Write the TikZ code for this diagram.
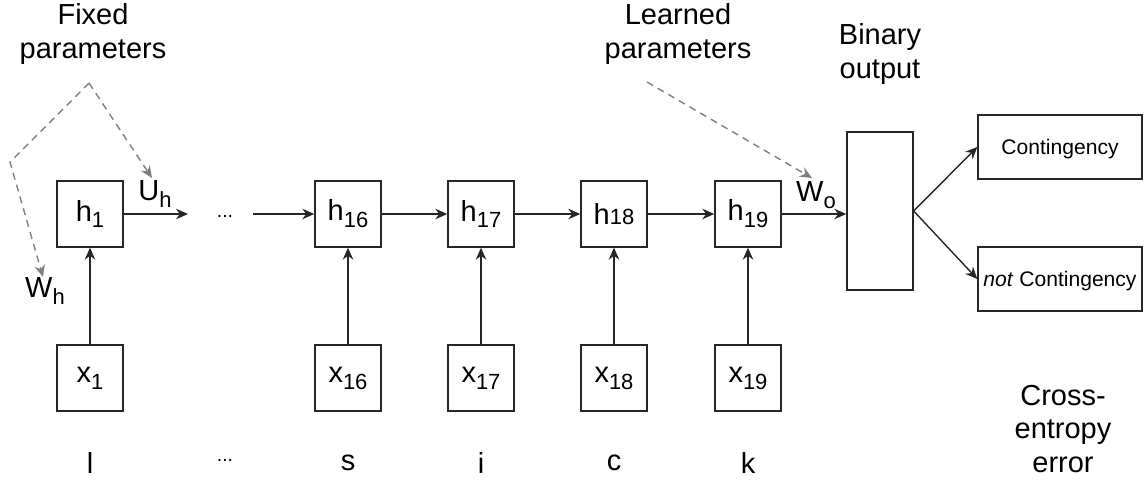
\documentclass[tikz,border=0pt]{standalone}
\usepackage{fontspec}
\setmainfont{Liberation Sans}
\usetikzlibrary{arrows.meta, positioning}

% lowered small digits/letters for the unit names
\newcommand{\lowsub}[1]{\raisebox{-0.45ex}{\fontsize{12.5}{12.5}\selectfont #1}}
\newcommand{\smallidx}[1]{{\fontsize{12.5}{12.5}\selectfont #1}}

\begin{document}
\begin{tikzpicture}[
    x=0.02cm, y=-0.02cm,
    every node/.style={font=\fontsize{16.5}{19}\selectfont},
    cell/.style={rectangle, draw=black!85, thick, minimum width=1.32cm, minimum height=1.32cm, inner sep=0pt},
    outbox/.style={rectangle, draw=black!85, thick, minimum width=1.32cm, minimum height=3.16cm},
    classbox/.style={rectangle, draw=black!85, thick, minimum width=3.28cm, minimum height=1.28cm, inner sep=0pt, text depth=0pt, font=\fontsize{12}{14}\selectfont},
    note/.style={align=center, inner sep=0pt},
    arrow/.style={thick, black!85, -{Stealth[length=2.4mm, width=2.1mm]}},
    hint/.style={thick, gray, dashed, dash pattern=on 4pt off 3pt, -{Stealth[length=2.4mm, width=2.1mm]}}
]
\useasboundingbox (0,0) rectangle (1147,481);

% hidden units
\node[cell] (h1)  at (90,214)  {h\lowsub{1}};
\node[cell] (h16) at (348,214) {h\lowsub{16}};
\node[cell] (h17) at (481,214) {h\lowsub{17}};
\node[cell] (h18) at (614,214) {h\smallidx{18}};
\node[cell] (h19) at (748,214) {h\lowsub{19}};

% inputs
\node[cell] (x1)  at (90,378)  {x\lowsub{1}};
\node[cell] (x16) at (348,378) {x\lowsub{16}};
\node[cell] (x17) at (481,378) {x\lowsub{17}};
\node[cell] (x18) at (614,378) {x\lowsub{18}};
\node[cell] (x19) at (748,378) {x\lowsub{19}};

% characters
\node (cl)  at (90,463)  {l};
\node[font=\fontsize{11}{11}\selectfont] (cdots) at (225,460) {...};
\node (cs)  at (348,463) {s};
\node (ci)  at (481,463) {i};
\node (cc)  at (614,463) {c};
\node (ck)  at (748,463) {k};

% output side
\node[outbox] (binary) at (880,211) {};
\node[classbox] (cont)  at (1060,147) {Contingency};
\node[classbox] (ncont) at (1060,279) {\textit{not} Contingency};

% recurrence
\coordinate (uhend) at (188,214);
\coordinate (dotsout) at (253,214);
\node[font=\fontsize{11}{11}\selectfont] (hdots) at (225,216) {...};
\draw[arrow] (h1) -- (uhend);
\draw[arrow] (dotsout) -- (h16);
\draw[arrow] (h16) -- (h17);
\draw[arrow] (h17) -- (h18);
\draw[arrow] (h18) -- (h19);
\draw[arrow] (h19) -- (h19 -| binary.west);

\draw[arrow] (x1) -- (h1);
\draw[arrow] (x16) -- (h16);
\draw[arrow] (x17) -- (h17);
\draw[arrow] (x18) -- (h18);
\draw[arrow] (x19) -- (h19);

\draw[arrow] (binary.east) -- (cont.west);
\draw[arrow] (binary.east) -- (ncont.west);

% weight labels
\node (uh) at (155,194) {U\lowsub{h}};
\node (wh) at (45,291)  {W\lowsub{h}};
\node (wo) at (816,195) {W\lowsub{o}};

% annotations
\node[note] (fixed)   at (93,34)   {Fixed\\parameters};
\node[note] (learned) at (678,34)  {Learned\\parameters};
\node[note] (binlbl)  at (880,54)  {Binary\\output};
\node[note] (xent)    at (1063,429) {Cross-\\entropy\\error};

\coordinate (fixedsrc) at (89,83);
\coordinate (fixedbend) at (10,162);
\coordinate (whtip) at (43,277);
\coordinate (uhtip) at (152,178);
\coordinate (learnedsrc) at (647,82);
\coordinate (wotip) at (812,178);
\draw[hint] (fixedsrc) -- (fixedbend) -- (whtip);
\draw[hint] (fixedsrc) -- (uhtip);
\draw[hint] (learnedsrc) -- (wotip);

\end{tikzpicture}
\end{document}
